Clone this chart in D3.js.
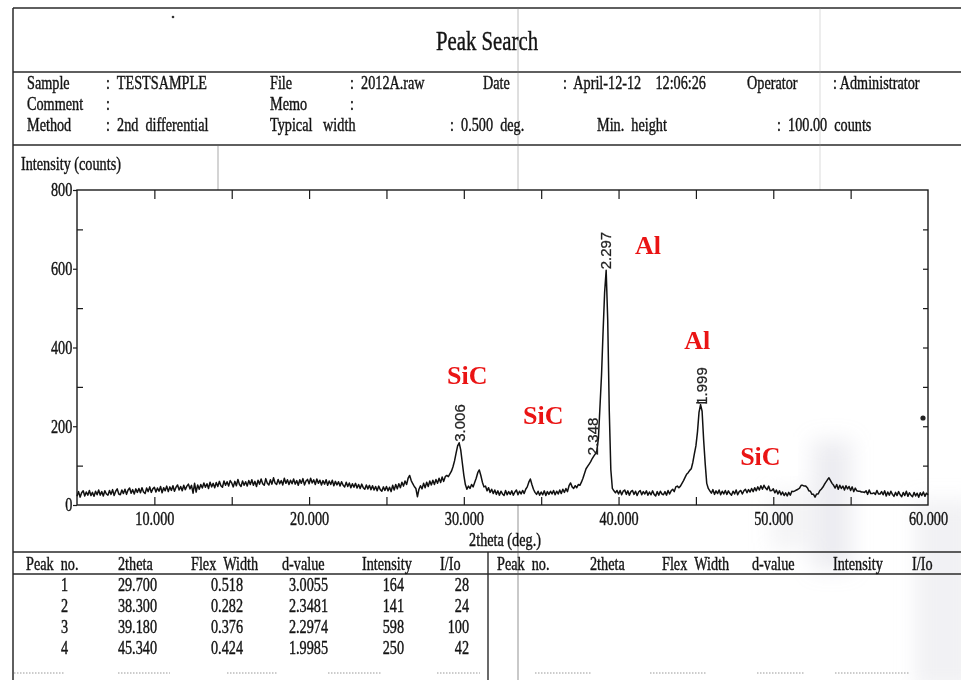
<!DOCTYPE html>
<html><head><meta charset="utf-8">
<script src="https://cdn.jsdelivr.net/npm/d3@7"></script>
<style>
html,body{margin:0;padding:0;background:#fff;}
svg{display:block;}
text{white-space:pre;}
</style></head><body>
<svg id="chart" width="961" height="680"></svg>
<script>
// ---------------- DATA ----------------
const reportTitle = "Peak Search";
const sampleName = "TESTSAMPLE";
const fileName = "2012A.raw";
const dateStr = "April-12-12";
const timeStr = "12:06:26";
const operatorName = "Administrator";
const methodName = "2nd  differential";
const typicalWidth = "0.500";
const minHeight = "100.00";

const yAxisTitle = "Intensity (counts)";
const xAxisTitle = "2theta (deg.)";
const xDomain = [5, 60];
const yDomain = [0, 800];
const xLabelTicks = [10, 20, 30, 40, 50, 60];
const xMinorTicks = [10, 15, 20, 25, 30, 35, 40, 45, 50, 55];
const yMajorTicks = [0, 200, 400, 600, 800];
const yMinorTicks = [100, 300, 500, 700];
const yRightTicks = [100, 200, 300, 400, 500, 600, 700];

// measured pattern: 2theta from 5.0 deg in 0.1 deg steps
const thetaStart = 5.0;
const thetaStep = 0.1;
const intensity = [
 22,34,20,31,36,23,33,25,37,24,
 32,22,35,26,38,25,34,23,36,28,
 25,37,27,39,24,35,41,28,26,38,
 29,40,27,38,43,30,39,28,41,32,
 42,31,44,33,29,43,34,46,32,41,
 45,33,43,35,47,31,44,36,48,34,
 46,37,49,35,45,51,38,47,36,50,
 39,48,53,41,50,30,55,33,51,40,
 52,43,56,45,54,42,58,46,55,44,
 57,47,60,49,45,61,50,59,48,62,
 56,46,60,49,65,52,47,61,50,59,
 48,62,52,64,50,60,47,63,53,66,
 54,50,67,55,51,64,53,69,56,52,
 65,54,62,51,68,55,64,52,63,54,
 66,53,62,50,64,55,67,51,61,65,
 54,68,56,64,52,66,55,63,51,62,
 53,64,50,61,52,63,49,60,51,59,
 48,59,50,46,58,47,56,44,54,45,
 55,43,52,42,53,44,40,51,41,50,
 39,49,38,47,36,48,39,35,46,37,
 47,36,45,34,50,38,52,41,54,44,
 58,48,61,52,68,75,62,54,47,42,
 21,40,49,41,55,44,58,47,61,51,
 63,52,65,55,68,57,71,60,72,75,
 72,79,86,97,112,132,150,158,140,108,
 76,52,40,48,42,52,46,57,68,82,
 89,75,58,46,48,36,44,32,40,29,
 38,27,36,25,35,28,24,37,26,34,
 27,36,25,33,38,26,35,28,37,29,
 40,46,58,66,52,40,32,27,35,25,
 33,26,36,24,34,27,35,28,37,26,
 35,28,38,29,40,32,42,34,49,56,
 46,42,49,44,52,50,58,68,80,92,
 98,104,110,118,124,130,138,170,250,330,
 440,540,596,470,240,90,42,36,31,37,
 28,37,26,35,38,27,36,25,34,37,
 27,35,24,33,37,26,34,28,36,25,
 33,26,36,27,23,34,25,35,28,26,
 34,25,37,28,36,40,34,46,48,44,
 48,55,62,70,78,82,88,92,108,130,
 150,185,235,255,238,165,105,55,42,36,
 30,39,27,36,29,38,26,35,28,37,
 27,36,29,25,35,28,38,26,34,37,
 28,36,40,31,39,33,42,34,44,36,
 46,38,49,40,50,43,39,48,36,37,
 41,31,38,28,36,26,33,24,31,23,
 32,25,35,34,36,38,40,43,50,50,
 48,48,44,36,35,27,27,20,28,28,
 36,40,45,52,58,64,69,62,55,50,
 43,52,40,50,42,48,38,49,41,47,
 37,46,34,43,36,35,35,33,33,32,
 36,27,38,29,29,31,27,37,28,28,
 34,26,36,23,33,25,35,27,22,32,
 24,34,26,21,32,24,35,22,31,25,
 21,32,23,30,20,31,24,33,22,30,
 26
];

// peak d-value markers
const peakLabels = ["3.006", "2.348", "2.297", "1.999"];
const peakLabelTheta = [29.70, 38.30, 39.18, 45.34];
const peakLabelBase = [158, 124, 596, 252];

// phase annotations
const phaseNames = ["SiC", "SiC", "Al", "Al", "SiC"];
const phaseTheta = [28.92, 33.83, 41.07, 44.24, 47.86];
const phaseCounts = [307, 206, 637, 396, 102];

// peak table
const tableHeaders = ["Peak  no.", "2theta", "Flex  Width", "d-value", "Intensity", "I/Io"];
const peakNo = ["1", "2", "3", "4"];
const peak2theta = ["29.700", "38.300", "39.180", "45.340"];
const flexWidth = ["0.518", "0.282", "0.376", "0.424"];
const dValue = ["3.0055", "2.3481", "2.2974", "1.9985"];
const peakIntensity = ["164", "141", "598", "250"];
const relIntensity = ["28", "24", "100", "42"];

// ---------------- LAYOUT ----------------
const svg = d3.select("#chart");
const SERIF = "'Liberation Serif','Times New Roman',serif";
const SANS = "'Liberation Sans',Arial,sans-serif";
const INK = "#141414";
const SX = 0.79;

const x = d3.scaleLinear().domain(xDomain).range([77, 928]);
const y = d3.scaleLinear().domain(yDomain).range([505, 190]);

function ctext(px, py, str, size, anchor, sx) {
  return svg.append("text")
    .attr("transform", `translate(${px},${py}) scale(${sx == null ? SX : sx},1)`)
    .attr("text-anchor", anchor || "start")
    .attr("font-family", SERIF)
    .attr("font-size", size)
    .attr("fill", INK)
    .attr("stroke", INK).attr("stroke-width", 0.4)
    .text(str);
}
function hline(x1, x2, yy, w, col) {
  svg.append("line").attr("x1", x1).attr("x2", x2).attr("y1", yy).attr("y2", yy)
    .attr("stroke", col || "#2a2a2a").attr("stroke-width", w || 1.3);
}
function vline(xx, y1, y2, w, col, op) {
  svg.append("line").attr("x1", xx).attr("x2", xx).attr("y1", y1).attr("y2", y2)
    .attr("stroke", col || "#2a2a2a").attr("stroke-width", w || 1.3)
    .attr("opacity", op == null ? 1 : op);
}

// scan shading (paper shadow)
const defs = svg.append("defs");
defs.append("filter").attr("id", "blur").attr("x", "-50%").attr("y", "-50%")
  .attr("width", "200%").attr("height", "200%")
  .append("feGaussianBlur").attr("stdDeviation", 10);
const shade = svg.append("g").attr("filter", "url(#blur)");
shade.append("rect").attr("x", 812).attr("y", 440).attr("width", 40).attr("height", 130).attr("fill", "#c4c4cf").attr("opacity", 0.3);
shade.append("rect").attr("x", 915).attr("y", 500).attr("width", 60).attr("height", 190).attr("fill", "#d0d0da").attr("opacity", 0.3);
shade.append("rect").attr("x", 770).attr("y", 490).attr("width", 40).attr("height", 60).attr("fill", "#d2d2da").attr("opacity", 0.25);

// frame lines
hline(13, 961, 8, 1.5);
hline(13, 961, 72, 1.5);
hline(13, 961, 145, 1.3);
hline(13, 961, 552, 1.5);
hline(13, 961, 574, 1.3);
vline(13, 8, 680, 1.5);
vline(488, 552, 680, 1.4);
// fold marks of the scanned page
vline(518, 8, 190, 0.8, "#777", 0.6);
vline(518, 505, 680, 0.9, "#555", 0.7);
vline(218, 145, 190, 0.8, "#666", 0.7);
vline(820, 8, 190, 0.7, "#999", 0.5);
svg.append("circle").attr("cx", 173).attr("cy", 17).attr("r", 1.3).attr("fill", "#333");
svg.append("circle").attr("cx", 923).attr("cy", 418).attr("r", 2.6).attr("fill", "#222");

// title
ctext(487, 50, reportTitle, 27, "middle", 0.77);

// header block
const r1 = 89, r2 = 110, r3 = 131;
ctext(27, r1, "Sample", 18); ctext(106, r1, ":  " + sampleName, 18);
ctext(270, r1, "File", 18); ctext(350, r1, ":  " + fileName, 18);
ctext(483, r1, "Date", 18); ctext(563, r1, ":  " + dateStr + "    " + timeStr, 18);
ctext(747, r1, "Operator", 18); ctext(833, r1, ": " + operatorName, 18);
ctext(27, r2, "Comment", 18); ctext(106, r2, ":", 18);
ctext(270, r2, "Memo", 18); ctext(350, r2, ":", 18);
ctext(27, r3, "Method", 18); ctext(106, r3, ":  " + methodName, 18);
ctext(270, r3, "Typical   width", 18); ctext(450, r3, ":  " + typicalWidth + "  deg.", 18);
ctext(597, r3, "Min.  height", 18); ctext(777, r3, ":  " + minHeight + "  counts", 18);

// axis titles
ctext(21, 170, yAxisTitle, 18);
ctext(505, 546, xAxisTitle, 18, "middle");

// plot frame
svg.append("rect").attr("x", x(xDomain[0])).attr("y", y(yDomain[1]))
  .attr("width", x(xDomain[1]) - x(xDomain[0])).attr("height", y(yDomain[0]) - y(yDomain[1]))
  .attr("fill", "none").attr("stroke", "#1a1a1a").attr("stroke-width", 1.4);

function styleTicks(g) {
  g.select(".domain").remove();
  g.selectAll(".tick line").attr("stroke", "#1a1a1a").attr("stroke-width", 1.2);
}
// bottom labels
const gxl = svg.append("g").attr("transform", `translate(0,${y(0)})`)
  .call(d3.axisBottom(x).tickValues(xLabelTicks).tickSize(0).tickFormat(d3.format(".3f")));
styleTicks(gxl);
gxl.selectAll("text").attr("y", 20).attr("dy", 0).attr("font-family", SERIF)
  .attr("font-size", 18).attr("fill", INK).attr("stroke", INK).attr("stroke-width", 0.4)
  .attr("transform", `scale(${SX},1)`);
// inner ticks
styleTicks(svg.append("g").attr("transform", `translate(0,${y(0)})`)
  .call(d3.axisTop(x).tickValues(xMinorTicks).tickSize(8).tickFormat("")));
styleTicks(svg.append("g").attr("transform", `translate(0,${y(800)})`)
  .call(d3.axisBottom(x).tickValues(xMinorTicks).tickSize(9).tickFormat("")));
// left axis
const gyl = svg.append("g").attr("transform", `translate(${x(xDomain[0])},0)`)
  .call(d3.axisLeft(y).tickValues(yMajorTicks).tickSize(4).tickPadding(2));
styleTicks(gyl);
gyl.selectAll("text").attr("font-family", SERIF).attr("font-size", 18).attr("fill", INK)
  .attr("stroke", INK).attr("stroke-width", 0.4)
  .attr("dy", "0.33em").attr("transform", `scale(${SX},1)`);
styleTicks(svg.append("g").attr("transform", `translate(${x(xDomain[0])},0)`)
  .call(d3.axisRight(y).tickValues(yMinorTicks).tickSize(6).tickFormat("")));
styleTicks(svg.append("g").attr("transform", `translate(${x(xDomain[1])},0)`)
  .call(d3.axisLeft(y).tickValues(yRightTicks).tickSize(5).tickFormat("")));

// pattern curve
const series = intensity.map((v, i) => ({ t: thetaStart + i * thetaStep, v: v }));
svg.append("path").datum(series)
  .attr("fill", "none").attr("stroke", "#111").attr("stroke-width", 1.5)
  .attr("stroke-linejoin", "round")
  .attr("d", d3.line().x(d => x(d.t)).y(d => y(d.v)));

// peak d-value labels
peakLabels.forEach((lab, i) => {
  svg.append("text")
    .attr("transform", `translate(${x(peakLabelTheta[i])},${y(peakLabelBase[i]) - 1}) rotate(-90)`)
    .attr("dy", "0.36em")
    .attr("font-family", SANS).attr("font-size", 15).attr("fill", "#222")
    .attr("stroke", "#222").attr("stroke-width", 0.25)
    .text(lab);
});
// peak mark on the 4th peak
svg.append("line")
  .attr("x1", x(peakLabelTheta[3]) - 5).attr("x2", x(peakLabelTheta[3]) + 5)
  .attr("y1", y(peakLabelBase[3]) - 3).attr("y2", y(peakLabelBase[3]) - 3)
  .attr("stroke", "#222").attr("stroke-width", 1.5);

// phase annotations
phaseNames.forEach((nm, i) => {
  const px = x(phaseTheta[i]), py = y(phaseCounts[i]);
  if (i === phaseNames.length - 1) {
    svg.append("rect").attr("x", px - 18).attr("y", py - 28)
      .attr("width", 76).attr("height", 39).attr("fill", "#fff");
  }
  svg.append("text").attr("x", px).attr("y", py)
    .attr("font-family", SERIF).attr("font-weight", "bold").attr("font-size", 26)
    .attr("fill", "#ea1414").text(nm);
});

// table
const colHeadX = [26, 118, 191, 282, 362, 440];
const colHeadX2 = [497, 590, 662, 752, 833, 912];
const colValX = [68, 157, 243, 328, 404, 469];
tableHeaders.forEach((h, j) => {
  ctext(colHeadX[j], 570, h, 18);
  ctext(colHeadX2[j], 570, h, 18);
});
const cols = [peakNo, peak2theta, flexWidth, dValue, peakIntensity, relIntensity];
peakNo.forEach((_, i) => {
  cols.forEach((col, j) => {
    ctext(colValX[j], 591 + i * 21, col[i], 18, "end");
  });
});

// faint dotted rules at page bottom
[[14,65],[118,170],[227,278],[328,382],[437,480],[535,592],[650,707],[757,805],[835,910]].forEach(s => {
  svg.append("line").attr("x1", s[0]).attr("x2", s[1]).attr("y1", 673).attr("y2", 673)
    .attr("stroke", "#999").attr("stroke-width", 1).attr("stroke-dasharray", "1.5,1.5");
});
</script></body></html>
